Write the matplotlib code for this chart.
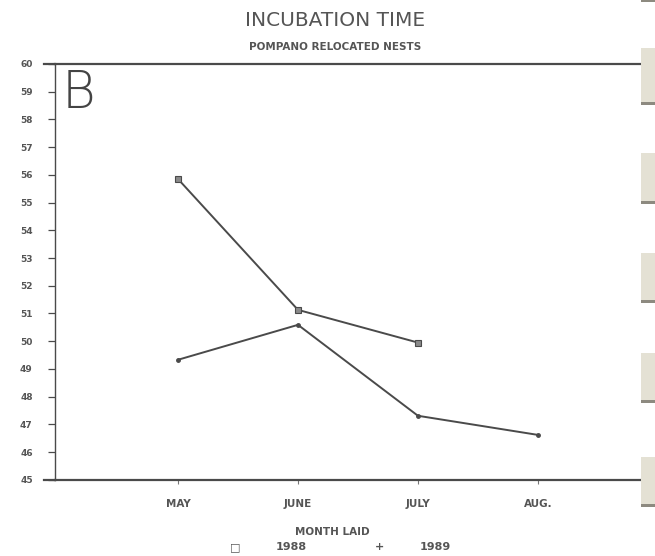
#!/usr/bin/env python3
"""Incubation time, Pompano relocated nests (panel B)."""

import matplotlib

matplotlib.use("Agg")
import matplotlib.pyplot as plt
from matplotlib.patches import Rectangle

months = ["MAY", "JUNE", "JULY", "AUG."]
days_1988 = [55.85, 51.13, 49.95]          # May-July
days_1989 = [49.33, 50.59, 47.31, 46.62]   # May-Aug
y_ticks = list(range(45, 61))

INK = "#4a4a4a"
TXT = "#555555"
plt.rcParams["font.family"] = ["DejaVu Sans"]

fig = plt.figure(figsize=(6.55, 5.56), dpi=100, facecolor="white")
ax = fig.add_axes([0.084, 0.137, 0.893, 0.748])

x88 = list(range(len(days_1988)))
x89 = list(range(len(days_1989)))
ax.plot(x88, days_1988, color=INK, linewidth=1.4, marker="s", markersize=5,
        markerfacecolor="#8a8a8a", markeredgecolor=INK, markeredgewidth=0.8)
ax.plot(x89, days_1989, color=INK, linewidth=1.4, marker="o", markersize=2.5,
        markerfacecolor=INK, markeredgecolor=INK)

ax.set_xlim(-1.025, 3.85)
ax.set_ylim(45, 60)
ax.set_yticks(y_ticks)
ax.set_yticklabels([str(v) for v in y_ticks], fontsize=6.5, color=TXT,
                   fontweight="bold")
ax.set_xticks(range(len(months)))
ax.set_xticklabels(months, fontsize=7.5, color=TXT, fontweight="bold")
ax.tick_params(axis="y", direction="out", length=5, width=0.9, color=INK, pad=11)
ax.tick_params(axis="x", direction="out", length=3, width=0.8, color="#777777", pad=11)

ax.spines["right"].set_visible(False)
for side in ("top", "bottom"):
    ax.spines[side].set_linewidth(1.6)
    ax.spines[side].set_color(INK)
ax.spines["left"].set_linewidth(1.0)
ax.spines["left"].set_color(INK)

# the top and bottom rules run a little past the left axis
ax.plot([-1.12, -1.025], [60, 60], color=INK, linewidth=1.6, clip_on=False)
ax.plot([-1.12, -1.025], [45, 45], color=INK, linewidth=1.6, clip_on=False)

ax.text(0.012, 0.988, "B", transform=ax.transAxes, fontsize=37, color="#444444",
        ha="left", va="top", fontweight="light")

fig.text(0.511, 0.963, "INCUBATION TIME", ha="center", va="center",
         fontsize=14.5, color=TXT)
fig.text(0.511, 0.915, "POMPANO RELOCATED NESTS", ha="center", va="center",
         fontsize=7.5, color=TXT, fontweight="bold")

fig.text(0.507, 0.043, "MONTH LAID", ha="center", va="center",
         fontsize=7.5, color=TXT, fontweight="bold")
fig.text(0.359, 0.016, "\u25a1", ha="center", va="center", fontsize=8, color=TXT)
fig.text(0.444, 0.016, "1988", ha="center", va="center", fontsize=8,
         color=TXT, fontweight="bold")
fig.text(0.580, 0.016, "+", ha="center", va="center", fontsize=8,
         color=TXT, fontweight="bold")
fig.text(0.664, 0.016, "1989", ha="center", va="center", fontsize=8,
         color=TXT, fontweight="bold")

# binder strips along the right edge of the scan (top, bottom in pixels)
strips = [(-10, 2), (48, 105), (153, 204), (253, 303), (353, 403), (457, 507)]
for top, bottom in strips:
    y0 = 1 - bottom / 556
    fig.add_artist(Rectangle((0.978, y0), 0.022, (bottom - top) / 556,
                             transform=fig.transFigure,
                             facecolor="#e4e1d4", edgecolor="none"))
    fig.add_artist(Rectangle((0.978, y0), 0.022, 3 / 556, transform=fig.transFigure,
                             facecolor="#8d8a80", edgecolor="none"))

fig.savefig("out.png", dpi=100, facecolor="white")
